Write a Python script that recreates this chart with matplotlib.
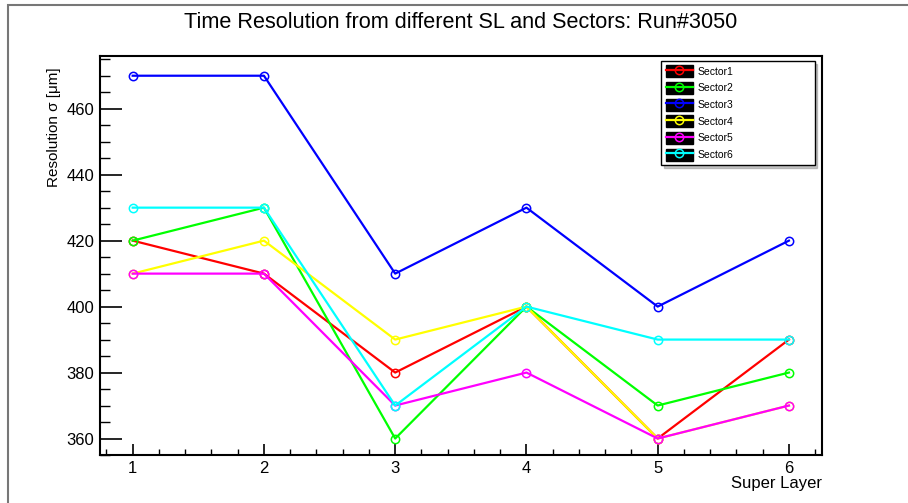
import matplotlib.pyplot as plt
from matplotlib.patches import Rectangle, Patch
from matplotlib.lines import Line2D
from matplotlib.ticker import MultipleLocator
from matplotlib.legend_handler import HandlerTuple

plt.rcParams["font.family"] = ["Liberation Sans", "DejaVu Sans"]

# values
super_layer = [1, 2, 3, 4, 5, 6]
sector_names = ["Sector1", "Sector2", "Sector3", "Sector4", "Sector5", "Sector6"]
sector1 = [420, 410, 380, 400, 360, 390]
sector2 = [420, 430, 360, 400, 370, 380]
sector3 = [470, 470, 410, 430, 400, 420]
sector4 = [410, 420, 390, 400, 360, 370]
sector5 = [410, 410, 370, 380, 360, 370]
sector6 = [430, 430, 370, 400, 390, 390]
colors = ["#ff0000", "#00ff00", "#0000ff", "#ffff00", "#ff00ff", "#00ffff"]


def main():
    fig = plt.figure(figsize=(9.08, 5.03), dpi=100)
    ax = fig.add_axes([0.110, 0.0954, 0.795, 0.7934])

    # outer canvas frame like the ROOT pad
    fig.patches.append(Rectangle((8 / 908, -0.1), 1.2, 1 - 5 / 503 + 0.1,
                                 transform=fig.transFigure, fill=False,
                                 edgecolor="#777777", linewidth=1.5))

    series = [sector1, sector2, sector3, sector4, sector5, sector6]
    handles = []
    for name, vals, c in zip(sector_names, series, colors):
        ax.plot(super_layer, vals, color=c, lw=1.6, marker="o", ms=6,
                mfc="none", mec=c, mew=1.1)
        handles.append((Patch(facecolor="black", edgecolor="black"),
                        Line2D([], [], color=c, lw=1.6, marker="o", ms=6,
                               mfc="none", mec=c, mew=1.1)))

    ax.set_xlim(0.75, 6.25)
    ax.set_ylim(355, 476)
    ax.xaxis.set_major_locator(MultipleLocator(1))
    ax.xaxis.set_minor_locator(MultipleLocator(0.2))
    ax.yaxis.set_major_locator(MultipleLocator(20))
    ax.yaxis.set_minor_locator(MultipleLocator(5))
    ax.tick_params(axis="x", which="major", direction="in", length=8, width=1.2,
                   labelsize=12, pad=4)
    ax.tick_params(axis="x", which="minor", direction="in", length=4, width=1)
    ax.tick_params(axis="y", which="major", direction="in", length=16, width=1.2,
                   labelsize=12, pad=4)
    ax.tick_params(axis="y", which="minor", direction="in", length=7.5, width=1)
    for s in ax.spines.values():
        s.set_linewidth(1.5)

    ax.set_ylabel("Resolution σ [μm]", fontsize=11)
    ax.yaxis.set_label_coords(-0.054, 0.822)
    ax.set_xlabel("Super Layer", fontsize=12)
    ax.xaxis.set_label_coords(1.0, -0.052)
    ax.xaxis.label.set_horizontalalignment("right")
    ax.xaxis.label.set_verticalalignment("top")

    fig.text(0.507, 0.955, "Time Resolution from different SL and Sectors: Run#3050",
             ha="center", va="center", fontsize=15.6)

    ax.legend(handles, sector_names, loc="upper left",
              bbox_to_anchor=(0.778, 0.9875, 0.212, 0.0), mode="expand",
              borderaxespad=0, fontsize=7.5, handlelength=2.6, handleheight=1.4,
              labelspacing=0.45, handletextpad=0.5, borderpad=0.4,
              fancybox=False, shadow={"color": "0.55"},
              edgecolor="black", framealpha=1,
              handler_map={tuple: HandlerTuple(ndivide=1, pad=0)})

    fig.savefig("out.png", dpi=100)


if __name__ == "__main__":
    main()
